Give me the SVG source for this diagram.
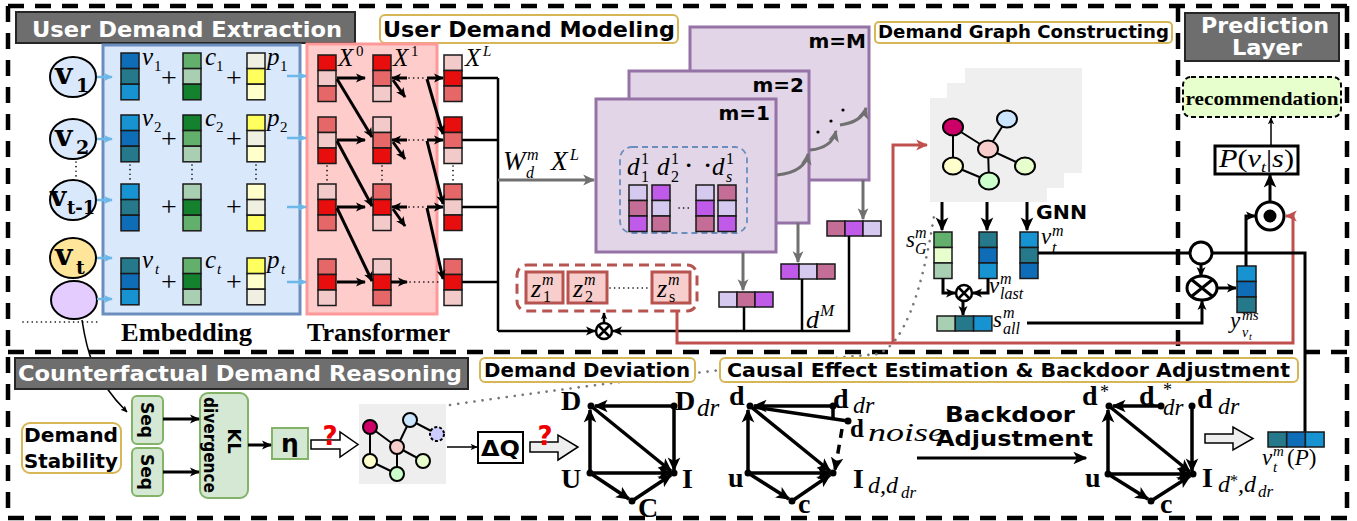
<svg xmlns="http://www.w3.org/2000/svg" width="1357" height="521" viewBox="0 0 1357 521">
<defs>
<style>
text{font-family:"Liberation Serif","Times New Roman",serif}
.hd{font-family:"DejaVu Sans","Liberation Sans",sans-serif;font-weight:bold}
.wt{fill:#fff}
.q{fill:#ee0000}
.mi{font-style:italic}
.bs{font-family:"DejaVu Serif","Liberation Serif",serif;font-weight:bold}
.tb{font-weight:bold}
.gray{fill:#6e6e6e;stroke:#262626;stroke-width:2}
.gold{fill:#fff;stroke:#d6b656;stroke-width:2}
.grn{fill:#d5e8d4;stroke:#82b366;stroke-width:2}
.frame{fill:none;stroke:#000;stroke-width:4.5;stroke-dasharray:16 11}
.c{stroke:#1a1a1a;stroke-width:1.5}
.b1{fill:#0f6cb6}.b2{fill:#26798b}.b3{fill:#1793d1}
.g1{fill:#62b06c}.g2{fill:#a9cfb3}.g3{fill:#13812d}.g4{fill:#e6ffcc}
.y1{fill:#f0f0e2}.y2{fill:#ffff5e}.y3{fill:#ffffcc}
.r1{fill:#e80e0e}.r2{fill:#e56767}.r3{fill:#f2caca}
.p1{fill:#d6c9f0}.p2{fill:#c36d97}.p3{fill:#c05be9}
.k{fill:none;stroke:#000;stroke-width:2.5}
.k3{fill:none;stroke:#000;stroke-width:3}
.kt{fill:none;stroke:#000;stroke-width:1.5}
.kc{fill:none;stroke:#000;stroke-width:3.5}
.dot{fill:none;stroke:#000;stroke-width:1.6;stroke-dasharray:0.1 4.5;stroke-linecap:round}
.gdot{fill:none;stroke:#777;stroke-width:2.6;stroke-dasharray:0.1 8;stroke-linecap:round}
.gy{fill:none;stroke:#707070;stroke-width:3}
.rd{fill:none;stroke:#c0504d;stroke-width:3}
.blu{fill:none;stroke:#6cb8e8;stroke-width:2.5}
.nd{stroke:#000;stroke-width:2}
.edge{stroke:#000;stroke-width:2}
</style>
<marker id="ah" viewBox="0 0 10 10" refX="9" refY="5" markerWidth="10" markerHeight="10" markerUnits="userSpaceOnUse" orient="auto"><path d="M0,0.5 L10,5 L0,9.5 L2.5,5 z" fill="#000"/></marker>
<marker id="ahS" viewBox="0 0 10 10" refX="9" refY="5" markerWidth="7" markerHeight="7" markerUnits="userSpaceOnUse" orient="auto"><path d="M0,0.5 L10,5 L0,9.5 L2.5,5 z" fill="#000"/></marker>
<marker id="ahL" viewBox="0 0 10 10" refX="9" refY="5" markerWidth="14" markerHeight="14" markerUnits="userSpaceOnUse" orient="auto"><path d="M0,0.5 L10,5 L0,9.5 L2.5,5 z" fill="#000"/></marker>
<marker id="ahB" viewBox="0 0 10 10" refX="9" refY="5" markerWidth="9" markerHeight="9" markerUnits="userSpaceOnUse" orient="auto"><path d="M0,0.5 L10,5 L0,9.5 L2.5,5 z" fill="#6cb8e8"/></marker>
<marker id="ahG" viewBox="0 0 10 10" refX="9" refY="5" markerWidth="12" markerHeight="12" markerUnits="userSpaceOnUse" orient="auto"><path d="M0,0.5 L10,5 L0,9.5 L2.5,5 z" fill="#707070"/></marker>
<marker id="ahR" viewBox="0 0 10 10" refX="9" refY="5" markerWidth="12" markerHeight="12" markerUnits="userSpaceOnUse" orient="auto"><path d="M0,0.5 L10,5 L0,9.5 L2.5,5 z" fill="#c0504d"/></marker>
</defs>

<rect width="1357" height="521" fill="#fff"/>

<!-- section frames -->
<g id="frames" class="frame">
<line x1="8" y1="6" x2="1350" y2="6"/>
<line x1="8" y1="6" x2="8" y2="518"/>
<line x1="8" y1="518" x2="1350" y2="518"/>
<line x1="1347" y1="6" x2="1347" y2="518"/>
<line x1="8" y1="352" x2="1347" y2="352"/>
<line x1="1178" y1="6" x2="1178" y2="352"/>
</g>

<!-- dotted link between the counterfactual graph and the demand graph -->
<path class="gdot" d="M450,405 Q680,372 878,354 Q915,340 935,210"/>
<!-- link from the extra item to the sequence box -->
<path class="kt" d="M82,320 C86,345 90,375 127,412" marker-end="url(#ahS)"/>

<!-- section titles -->
<g id="title-extraction"><rect class="gray" x="16" y="12" width="339" height="31"/><text class="hd wt" x="32" y="37" font-size="22" textLength="310" lengthAdjust="spacingAndGlyphs">User Demand Extraction</text></g>
<g id="title-modeling"><rect class="gold" x="380" y="15" width="298" height="28" rx="5"/><text class="hd" x="383" y="37" font-size="21" textLength="292" lengthAdjust="spacingAndGlyphs">User Demand Modeling</text></g>
<g id="title-graph"><rect class="gold" x="875" y="22" width="297" height="21" rx="4"/><text class="hd" x="878" y="38" font-size="17" textLength="291" lengthAdjust="spacingAndGlyphs">Demand Graph Constructing</text></g>
<g id="title-prediction"><rect class="gray" x="1185" y="13" width="154" height="48"/><text class="hd wt" x="1265" y="33" font-size="21" text-anchor="middle" textLength="128" lengthAdjust="spacingAndGlyphs">Prediction</text><text class="hd wt" x="1267" y="55" font-size="21" text-anchor="middle" textLength="70" lengthAdjust="spacingAndGlyphs">Layer</text></g>
<g id="title-counterfactual"><rect class="gray" x="15" y="358" width="453" height="31"/><text class="hd wt" x="18" y="381" font-size="21" textLength="444" lengthAdjust="spacingAndGlyphs">Counterfactual Demand Reasoning</text></g>

<!-- item nodes -->
<g id="items">
<g id="item-v1"><ellipse cx="73" cy="77" rx="23" ry="20" fill="#dae8fc" class="nd"/><text class="bs" x="55" y="84" font-size="30">v</text><text class="bs" x="76" y="92" font-size="19">1</text></g>
<g id="item-v2"><ellipse cx="73" cy="139" rx="23" ry="20" fill="#dae8fc" class="nd"/><text class="bs" x="55" y="146" font-size="30">v</text><text class="bs" x="76" y="154" font-size="19">2</text></g>
<g id="item-vt1"><ellipse cx="73" cy="200" rx="23" ry="20" fill="#dae8fc" class="nd"/><text class="bs" x="50" y="206" font-size="28">v</text><text class="bs" x="67" y="214" font-size="18">t-1</text></g>
<g id="item-vt"><ellipse cx="73" cy="258" rx="23" ry="20" fill="#ffe599" class="nd"/><text class="bs" x="55" y="265" font-size="30">v</text><text class="bs" x="76" y="274" font-size="19">t</text></g>
<g id="item-next"><ellipse cx="74" cy="300" rx="23" ry="19" fill="#e5ccff" class="nd"/></g>
<path class="dot" d="M76,162 V178"/>
<path class="dot" d="M23,322 H97"/>
</g>

<!-- embedding block -->
<g id="embedding">
<rect x="103" y="45" width="197" height="269" fill="#dae8fc" stroke="#6c8ebf" stroke-width="3"/>
<g class="c">
<rect class="b1" x="121" y="53" width="18" height="15.6"/><rect class="b2" x="121" y="68.6" width="18" height="15.6"/><rect class="b3" x="121" y="84.2" width="18" height="15.6"/>
<rect class="b3" x="121" y="115" width="18" height="15.6"/><rect class="b1" x="121" y="130.6" width="18" height="15.6"/><rect class="b2" x="121" y="146.2" width="18" height="15.6"/>
<rect class="b3" x="121" y="184" width="18" height="15.6"/><rect class="b2" x="121" y="199.6" width="18" height="15.6"/><rect class="b1" x="121" y="215.2" width="18" height="15.6"/>
<rect class="b2" x="121" y="258" width="18" height="15.6"/><rect class="b1" x="121" y="273.6" width="18" height="15.6"/><rect class="b3" x="121" y="289.2" width="18" height="15.6"/>
<rect class="g1" x="183" y="53" width="18" height="15.6"/><rect class="g2" x="183" y="68.6" width="18" height="15.6"/><rect class="g3" x="183" y="84.2" width="18" height="15.6"/>
<rect class="g3" x="183" y="115" width="18" height="15.6"/><rect class="g1" x="183" y="130.6" width="18" height="15.6"/><rect class="g2" x="183" y="146.2" width="18" height="15.6"/>
<rect class="g2" x="183" y="184" width="18" height="15.6"/><rect class="g3" x="183" y="199.6" width="18" height="15.6"/><rect class="g1" x="183" y="215.2" width="18" height="15.6"/>
<rect class="g1" x="183" y="258" width="18" height="15.6"/><rect class="g3" x="183" y="273.6" width="18" height="15.6"/><rect class="g2" x="183" y="289.2" width="18" height="15.6"/>
<rect class="y1" x="247" y="53" width="18" height="15.6"/><rect class="y2" x="247" y="68.6" width="18" height="15.6"/><rect class="y3" x="247" y="84.2" width="18" height="15.6"/>
<rect class="y2" x="247" y="115" width="18" height="15.6"/><rect class="y1" x="247" y="130.6" width="18" height="15.6"/><rect class="y3" x="247" y="146.2" width="18" height="15.6"/>
<rect class="y3" x="247" y="184" width="18" height="15.6"/><rect class="y1" x="247" y="199.6" width="18" height="15.6"/><rect class="y2" x="247" y="215.2" width="18" height="15.6"/>
<rect class="y2" x="247" y="258" width="18" height="15.6"/><rect class="y3" x="247" y="273.6" width="18" height="15.6"/><rect class="y1" x="247" y="289.2" width="18" height="15.6"/>
</g>
<path class="dot" d="M130,165 V180 M192,165 V180 M256,165 V180"/>
<g font-size="28">
<text x="161" y="87">+</text><text x="226" y="87">+</text>
<text x="161" y="148">+</text><text x="226" y="148">+</text>
<text x="161" y="216">+</text><text x="226" y="216">+</text>
<text x="161" y="291">+</text><text x="226" y="291">+</text>
</g>
<g class="mi" font-size="25">
<text x="142" y="65">v</text><text x="205" y="65">c</text><text x="267" y="65">p</text>
<text x="142" y="126">v</text><text x="205" y="126">c</text><text x="267" y="126">p</text>
<text x="142" y="268">v</text><text x="205" y="268">c</text><text x="267" y="268">p</text>
</g>
<g font-size="15">
<text x="154" y="71">1</text><text x="216" y="71">1</text><text x="280" y="71">1</text>
<text x="154" y="132">2</text><text x="216" y="132">2</text><text x="280" y="132">2</text>
<text class="mi" x="155" y="274">t</text><text class="mi" x="217" y="274">t</text><text class="mi" x="281" y="274">t</text>
</g>
<text class="tb" x="121" y="341" font-size="26" textLength="131" lengthAdjust="spacingAndGlyphs">Embedding</text>
</g>

<!-- transformer block -->
<g id="transformer">
<rect x="307" y="44" width="130" height="270" fill="#ffcccc" stroke="#ff9999" stroke-width="3"/>
<g class="c">
<rect class="r1" x="318" y="55" width="18" height="15.5"/><rect class="r3" x="318" y="70.5" width="18" height="15.5"/><rect class="r2" x="318" y="86" width="18" height="15.5"/>
<rect class="r2" x="318" y="117" width="18" height="15.5"/><rect class="r3" x="318" y="132.5" width="18" height="15.5"/><rect class="r1" x="318" y="148" width="18" height="15.5"/>
<rect class="r3" x="318" y="184" width="18" height="15.5"/><rect class="r1" x="318" y="199.5" width="18" height="15.5"/><rect class="r2" x="318" y="215" width="18" height="15.5"/>
<rect class="r2" x="318" y="259" width="18" height="15.5"/><rect class="r1" x="318" y="274.5" width="18" height="15.5"/><rect class="r3" x="318" y="290" width="18" height="15.5"/>
<rect class="r1" x="373" y="55" width="18" height="15.5"/><rect class="r2" x="373" y="70.5" width="18" height="15.5"/><rect class="r3" x="373" y="86" width="18" height="15.5"/>
<rect class="r3" x="373" y="117" width="18" height="15.5"/><rect class="r2" x="373" y="132.5" width="18" height="15.5"/><rect class="r1" x="373" y="148" width="18" height="15.5"/>
<rect class="r2" x="373" y="184" width="18" height="15.5"/><rect class="r1" x="373" y="199.5" width="18" height="15.5"/><rect class="r3" x="373" y="215" width="18" height="15.5"/>
<rect class="r3" x="373" y="259" width="18" height="15.5"/><rect class="r1" x="373" y="274.5" width="18" height="15.5"/><rect class="r2" x="373" y="290" width="18" height="15.5"/>
<rect class="r3" x="444" y="55" width="18" height="15.5"/><rect class="r1" x="444" y="70.5" width="18" height="15.5"/><rect class="r2" x="444" y="86" width="18" height="15.5"/>
<rect class="r1" x="444" y="117" width="18" height="15.5"/><rect class="r2" x="444" y="132.5" width="18" height="15.5"/><rect class="r3" x="444" y="148" width="18" height="15.5"/>
<rect class="r2" x="444" y="184" width="18" height="15.5"/><rect class="r3" x="444" y="199.5" width="18" height="15.5"/><rect class="r1" x="444" y="215" width="18" height="15.5"/>
<rect class="r2" x="444" y="259" width="18" height="15.5"/><rect class="r1" x="444" y="274.5" width="18" height="15.5"/><rect class="r3" x="444" y="290" width="18" height="15.5"/>
</g>
<path class="dot" d="M327,166 V180 M382,166 V180 M453,166 V180"/>
<g class="mi" font-size="25">
<text x="338" y="66">X</text><text x="393" y="66">X</text><text x="465" y="66">X</text>
</g>
<g font-size="15"><text x="356" y="56">0</text><text x="411" y="56">1</text><text class="mi" x="483" y="56">L</text></g>
<text class="tb" x="307" y="341" font-size="26" textLength="143" lengthAdjust="spacingAndGlyphs">Transformer</text>
</g>

<!-- stacked demand channels -->
<g id="channel-M"><rect x="690" y="27" width="179" height="153" fill="#e1d5e7" stroke="#9673a6" stroke-width="3"/><text class="hd" x="866" y="48" font-size="20" text-anchor="end">m=M</text></g>
<g id="channel-2"><rect x="629" y="71" width="180" height="152" fill="#e1d5e7" stroke="#9673a6" stroke-width="3"/><text class="hd" x="804" y="92" font-size="20" text-anchor="end">m=2</text></g>
<g id="channel-1">
<rect x="596" y="99" width="180" height="153" fill="#e1d5e7" stroke="#9673a6" stroke-width="3"/>
<text class="hd" x="770" y="120" font-size="20" text-anchor="end">m=1</text>
<rect x="620" y="147" width="127" height="86" rx="12" fill="none" stroke="#6c8ebf" stroke-width="1.8" stroke-dasharray="6 4"/>
<g class="c">
<rect class="p1" x="629" y="185" width="18" height="15.5"/><rect class="p2" x="629" y="200.5" width="18" height="15.5"/><rect class="p3" x="629" y="216" width="18" height="15.5"/>
<rect class="p3" x="652" y="185" width="18" height="15.5"/><rect class="p1" x="652" y="200.5" width="18" height="15.5"/><rect class="p2" x="652" y="216" width="18" height="15.5"/>
<rect class="p1" x="696" y="185" width="18" height="15.5"/><rect class="p3" x="696" y="200.5" width="18" height="15.5"/><rect class="p2" x="696" y="216" width="18" height="15.5"/>
<rect class="p2" x="718" y="185" width="18" height="15.5"/><rect class="p1" x="718" y="200.5" width="18" height="15.5"/><rect class="p3" x="718" y="216" width="18" height="15.5"/>
</g>
<path class="dot" d="M679,208 H690"/>
<g class="mi" font-size="25"><text x="627" y="175">d</text><text x="657" y="175">d</text><text x="712" y="175">d</text></g>
<g font-size="16"><text x="641" y="164">1</text><text x="641" y="182">1</text><text x="671" y="164">1</text><text x="671" y="182">2</text><text x="726" y="164">1</text><text class="mi" x="726" y="182">s</text></g>
<text class="tb" x="685" y="172" font-size="22">·</text><text class="tb" x="704" y="172" font-size="22">·</text>
</g>

<!-- demand vectors per channel -->
<g id="demand-vectors" class="c">
<rect class="p1" x="719" y="292" width="18" height="15"/><rect class="p2" x="737" y="292" width="18" height="15"/><rect class="p3" x="755" y="292" width="18" height="15"/>
<rect class="p3" x="781" y="264" width="18" height="15"/><rect class="p1" x="799" y="264" width="18" height="15"/><rect class="p2" x="817" y="264" width="18" height="15"/>
<rect class="p2" x="827" y="221" width="18" height="15"/><rect class="p3" x="845" y="221" width="18" height="15"/><rect class="p1" x="863" y="221" width="18" height="15"/>
</g>
<g id="label-dM"><text class="mi" x="806" y="328" font-size="26">d</text><text class="mi" x="820" y="316" font-size="17">M</text></g>

<!-- latent demand factors -->
<g id="factors">
<rect x="517" y="265" width="180" height="46" rx="10" fill="none" stroke="#b85450" stroke-width="3" stroke-dasharray="10 6"/>
<rect x="526" y="272" width="37" height="31" fill="#f8cecc" stroke="#b85450" stroke-width="3"/>
<rect x="568" y="272" width="39" height="31" fill="#f8cecc" stroke="#b85450" stroke-width="3"/>
<rect x="652" y="272" width="38" height="31" fill="#f8cecc" stroke="#b85450" stroke-width="3"/>
<path class="dot" d="M610,288 H649"/>
<g class="mi" font-size="26"><text x="531" y="297">z</text><text x="573" y="297">z</text><text x="657" y="297">z</text></g>
<g font-size="16"><text class="mi" x="542" y="285">m</text><text x="543" y="302">1</text><text class="mi" x="584" y="285">m</text><text x="585" y="302">2</text><text class="mi" x="668" y="285">m</text><text x="669" y="302">s</text></g>
</g>

<!-- demand graph -->
<g id="demand-graph">
<rect x="965" y="68" width="117" height="105" fill="#efefef"/>
<rect x="947" y="83" width="117" height="105" fill="#efefef"/>
<rect x="930" y="98" width="117" height="104" fill="#efefef"/>
<g class="edge"><line x1="953" y1="127" x2="988" y2="149"/><line x1="953" y1="127" x2="953" y2="166"/><line x1="953" y1="166" x2="989" y2="181"/><line x1="988" y1="149" x2="989" y2="181"/><line x1="988" y1="149" x2="1007" y2="119"/><line x1="988" y1="149" x2="1025" y2="166"/></g>
<g class="nd">
<ellipse cx="953" cy="127" rx="10" ry="8.5" fill="#cc0066"/>
<ellipse cx="1007" cy="119" rx="10" ry="8.5" fill="#cce5ff"/>
<ellipse cx="988" cy="149" rx="10" ry="8.5" fill="#f8cecc"/>
<ellipse cx="953" cy="166" rx="10" ry="8.5" fill="#ffffcc"/>
<ellipse cx="1025" cy="166" rx="10" ry="8.5" fill="#e6ffcc"/>
<ellipse cx="989" cy="181" rx="10" ry="8.5" fill="#ccffcc"/>
</g>
<text class="hd" x="1036" y="219" font-size="19" textLength="51" lengthAdjust="spacingAndGlyphs">GNN</text>
</g>

<!-- graph readout vectors -->
<g id="readout">
<g class="c">
<rect class="g1" x="934" y="232" width="18" height="15.5"/><rect class="g4" x="934" y="247.5" width="18" height="15.5"/><rect class="g2" x="934" y="263" width="18" height="15.5"/>
<rect class="b2" x="979" y="232" width="18" height="15.5"/><rect class="b1" x="979" y="247.5" width="18" height="15.5"/><rect class="b3" x="979" y="263" width="18" height="15.5"/>
<rect class="b3" x="1020" y="232" width="18" height="15.5"/><rect class="b2" x="1020" y="247.5" width="18" height="15.5"/><rect class="b1" x="1020" y="263" width="18" height="15.5"/>
<rect class="g2" x="937" y="316" width="18.3" height="15"/><rect class="b2" x="955.3" y="316" width="18.3" height="15"/><rect class="b3" x="973.6" y="316" width="18.3" height="15"/>
</g>
<g class="mi" font-size="23"><text x="906" y="247">s</text><text x="1041" y="244">v</text><text x="989" y="293">v</text><text x="993" y="327">s</text></g>
<g class="mi" font-size="16">
<text x="915" y="238">m</text><text x="915" y="254">G</text>
<text x="1052" y="236">m</text><text x="1052" y="253">t</text>
<text x="1000" y="284">m</text><text x="1000" y="299">last</text>
<text x="1003" y="318">m</text><text x="1003" y="334">all</text>
</g>
</g>

<!-- prediction layer -->
<g id="prediction">
<rect x="1183" y="77" width="158" height="40" rx="8" fill="#e6ffcc" stroke="#000" stroke-width="2" stroke-dasharray="5 3"/>
<text class="tb" x="1262" y="105" font-size="19" text-anchor="middle" textLength="153" lengthAdjust="spacingAndGlyphs">recommendation</text>
<rect x="1215" y="146" width="83" height="28" fill="#fff" stroke="#000" stroke-width="3"/>
<text class="mi" x="1219" y="167" font-size="25" textLength="75" lengthAdjust="spacingAndGlyphs">P<tspan font-style="normal">(</tspan>v<tspan font-size="15" dy="5">t</tspan><tspan font-style="normal" dy="-5">|</tspan>s<tspan font-style="normal">)</tspan></text>
<g class="c"><rect class="b3" x="1237" y="266" width="19" height="15.5"/><rect class="b1" x="1237" y="281.5" width="19" height="15.5"/><rect class="b2" x="1237" y="297" width="19" height="15.5"/></g>
<text class="mi" x="1230" y="328" font-size="23">y</text><text class="mi" x="1242" y="320" font-size="15">ms</text><text class="mi" x="1242" y="337" font-size="14">v</text><text class="mi" x="1249" y="340" font-size="10">t</text>
<circle cx="1201" cy="253" r="11" fill="#fff" stroke="#000" stroke-width="3"/>
<g><ellipse cx="1202" cy="288" rx="15" ry="12" fill="#fff" stroke="#000" stroke-width="3"/><path class="k3" d="M1192,280 L1212,296 M1212,280 L1192,296"/></g>
<g><circle cx="1270" cy="216" r="14" fill="#fff" stroke="#000" stroke-width="3"/><circle cx="1270" cy="216" r="6.5" fill="#000"/></g>
</g>

<!-- connectors -->
<g id="connectors">
<!-- item to embedding -->
<g class="blu">
<path d="M97,77 H112" marker-end="url(#ahB)"/><path d="M97,139 H112" marker-end="url(#ahB)"/><path d="M97,200 H112" marker-end="url(#ahB)"/><path d="M97,258 H112" marker-end="url(#ahB)"/><path d="M97,299 H112" marker-end="url(#ahB)"/>
<path d="M287,76 H306" marker-end="url(#ahB)"/><path d="M287,138 H306" marker-end="url(#ahB)"/><path d="M287,207 H306" marker-end="url(#ahB)"/><path d="M287,282 H306" marker-end="url(#ahB)"/>
</g>
<!-- transformer layers -->
<g class="k3">
<path d="M337,78 H365" marker-end="url(#ah)"/><path d="M337,79 L372,137" marker-end="url(#ah)"/>
<path d="M337,140 H365" marker-end="url(#ah)"/><path d="M337,141 L372,206" marker-end="url(#ah)"/>
<path d="M337,207 H365" marker-end="url(#ah)"/><path d="M337,208 L372,281" marker-end="url(#ah)"/>
<path d="M337,282 H365" marker-end="url(#ah)"/>
<path d="M407,78 H392" marker-end="url(#ah)"/><path d="M393,80 L405,97" marker-end="url(#ah)"/>
<path d="M407,140 H392" marker-end="url(#ah)"/><path d="M393,142 L405,159" marker-end="url(#ah)"/>
<path d="M407,207 H392" marker-end="url(#ah)"/><path d="M393,209 L405,226" marker-end="url(#ah)"/>
<path d="M391,282 H407" marker-end="url(#ah)"/>
<path d="M427,78 H443" marker-end="url(#ah)"/><path d="M427,79 L443,134" marker-end="url(#ah)"/>
<path d="M427,140 H443" marker-end="url(#ah)"/><path d="M427,141 L443,204" marker-end="url(#ah)"/>
<path d="M427,207 H443" marker-end="url(#ah)"/><path d="M427,208 L443,279" marker-end="url(#ah)"/>
</g>
<path class="dot" d="M409,78 H425 M409,140 H425 M409,207 H425 M410,282 H442"/>
<!-- transformer output bus -->
<path class="k" d="M462,78 H498 M462,140 H498 M462,207 H498 M462,282 H498 M498,78 V331"/>
<path class="k" d="M498,331 H595" marker-end="url(#ah)"/>
<path class="k" d="M849,236 V331 H613" marker-end="url(#ah)"/>
<path class="k" d="M744,307 V331 M802,279 V331"/>
<path class="k" d="M604,322 V313" marker-end="url(#ahS)"/>
<g><circle cx="604" cy="331" r="8" fill="#fff" stroke="#000" stroke-width="2.5"/><path class="k" d="M599,326 L609,336 M609,326 L599,336"/></g>
<!-- projection into channels -->
<path class="gy" d="M498,180 H594" marker-end="url(#ahG)"/>
<g class="mi"><text x="503" y="170" font-size="27">W</text><text x="527" y="160" font-size="16">m</text><text x="526" y="178" font-size="16">d</text><text x="551" y="170" font-size="27">X</text><text x="570" y="160" font-size="16">L</text></g>
<path class="gy" d="M777,175 Q805,172 808,154" marker-end="url(#ahG)"/>
<path class="gy" d="M810,150 Q832,148 836,131" marker-end="url(#ahG)"/>
<path class="gy" d="M840,125 Q862,122 866,108" marker-end="url(#ahG)"/>
<g fill="#000"><circle cx="818" cy="132" r="1.6"/><circle cx="831" cy="121" r="1.6"/><circle cx="843" cy="110" r="1.6"/></g>
<path class="gy" d="M743,252 V290" marker-end="url(#ahG)"/>
<path class="gy" d="M798,223 V262" marker-end="url(#ahG)"/>
<path class="gy" d="M863,180 V219" marker-end="url(#ahG)"/>
<!-- factor route to graph and prediction -->
<path class="rd" d="M677,311 V343 H1293 V216 H1286" marker-end="url(#ahR)"/>
<path class="rd" d="M893,343 V145 H927" marker-end="url(#ahR)"/>
<!-- GNN readouts -->
<path class="k3" d="M942,202 V230" marker-end="url(#ahL)"/>
<path class="k3" d="M987,202 V230" marker-end="url(#ahL)"/>
<path class="k3" d="M1027,202 V230" marker-end="url(#ahL)"/>
<path class="k3" d="M943,278 V293 H955" marker-end="url(#ah)"/>
<path class="k3" d="M988,278 V293 H973" marker-end="url(#ah)"/>
<path class="k3" d="M963,301 V315" marker-end="url(#ah)"/>
<g><circle cx="964" cy="293" r="8" fill="#fff" stroke="#000" stroke-width="2.5"/><path class="k" d="M959,288 L969,298 M969,288 L959,298"/></g>
<!-- prediction wiring -->
<path class="k3" d="M1038,253 H1190 M1212,253 H1305 V432"/>
<path class="k3" d="M1027,323 H1202 V301" marker-end="url(#ah)"/>
<path class="k3" d="M1201,264 V276" marker-end="url(#ah)"/>
<path class="k3" d="M1217,288 H1236" marker-end="url(#ah)"/>
<path class="k3" d="M1246,266 V216 H1255" marker-end="url(#ah)"/>
<path class="k3" d="M1270,202 V175" marker-end="url(#ahL)"/>
<path class="kt" d="M1271,146 V118" marker-end="url(#ahS)"/>
</g>

<!-- counterfactual demand reasoning -->
<g id="title-deviation"><rect class="gold" x="480" y="358" width="215" height="24" rx="5"/><text class="hd" x="484" y="377" font-size="19" textLength="206" lengthAdjust="spacingAndGlyphs">Demand Deviation</text></g>
<g id="title-causal"><rect class="gold" x="720" y="358" width="578" height="24" rx="5"/><text class="hd" x="727" y="377" font-size="19" textLength="563" lengthAdjust="spacingAndGlyphs">Causal Effect Estimation &amp; Backdoor Adjustment</text></g>
<g id="stability"><rect class="gold" x="22" y="423" width="99" height="50" rx="8"/><text class="hd" x="24" y="442" font-size="19" textLength="94" lengthAdjust="spacingAndGlyphs">Demand</text><text class="hd" x="24" y="468" font-size="19" textLength="94" lengthAdjust="spacingAndGlyphs">Stability</text></g>
<g id="seq-1"><rect class="grn" x="132" y="396" width="31" height="48" rx="5"/><text class="hd" font-size="17" text-anchor="middle" dominant-baseline="central" transform="translate(147,420) rotate(90)">Seq</text></g>
<g id="seq-2"><rect class="grn" x="132" y="448" width="31" height="48" rx="5"/><text class="hd" font-size="17" text-anchor="middle" dominant-baseline="central" transform="translate(147,472) rotate(90)">Seq</text></g>
<g id="kl"><rect class="grn" x="200" y="393" width="48" height="105" rx="8"/><g transform="translate(222,445) rotate(90)"><text class="hd" x="-4" y="-12" font-size="18" text-anchor="middle" dominant-baseline="central">KL</text><text class="hd" x="0" y="12" font-size="18" text-anchor="middle" dominant-baseline="central" textLength="96" lengthAdjust="spacingAndGlyphs">divergence</text></g></g>
<g id="eta"><rect x="272" y="428" width="36" height="31" fill="#d5e8d4" stroke="#82b366" stroke-width="2"/><text class="hd" x="290" y="452" font-size="25" text-anchor="middle">η</text></g>
<g id="cf-graph">
<rect x="359" y="404" width="87" height="80" fill="#eeeeee"/>
<g class="edge"><line x1="370" y1="427" x2="397" y2="447"/><line x1="370" y1="427" x2="370" y2="461"/><line x1="370" y1="461" x2="397" y2="474"/><line x1="397" y1="447" x2="397" y2="474"/><line x1="397" y1="447" x2="410" y2="420"/><line x1="397" y1="447" x2="423" y2="461"/><line x1="410" y1="420" x2="437" y2="434"/></g>
<g class="nd">
<circle cx="370" cy="427" r="7" fill="#cc0066"/>
<circle cx="410" cy="420" r="7" fill="#cce5ff"/>
<circle cx="397" cy="447" r="7" fill="#f8cecc"/>
<circle cx="370" cy="461" r="7" fill="#ffffcc"/>
<circle cx="423" cy="461" r="7" fill="#e6ffcc"/>
<circle cx="397" cy="474" r="7" fill="#ccffcc"/>
<circle cx="437" cy="434" r="7" fill="#ccccff" stroke-dasharray="3 2"/>
</g>
</g>
<g id="delta-q"><rect x="478" y="432" width="45" height="31" fill="#fff" stroke="#000" stroke-width="2"/><text class="hd" x="500.5" y="456" font-size="22" text-anchor="middle" textLength="39" lengthAdjust="spacingAndGlyphs">ΔQ</text></g>
<g id="block-arrows" stroke="#000" stroke-width="1.5">
<polygon points="311,440 340,440 340,432 358,444.5 340,457 340,449 311,449" fill="#fff"/>
<polygon points="530,442 558,442 558,435 578,447 558,460 558,452 530,452" fill="#eeeeee"/>
<polygon points="1205,434 1233,434 1233,427 1253,438.5 1233,450 1233,443 1205,443" fill="#eeeeee"/>
</g>
<g font-size="26" text-anchor="middle"><text class="hd q" x="330" y="445">?</text><text class="hd q" x="545" y="445">?</text></g>
<g id="cf-connectors">
<path class="k3" d="M163,419 H199" marker-end="url(#ah)"/>
<path class="k3" d="M163,472 H199" marker-end="url(#ah)"/>
<path class="k3" d="M248,445 H271" marker-end="url(#ah)"/>
<path class="kt" d="M447,447 H477" marker-end="url(#ahS)"/>
<path class="k3" d="M917,458 H1086" marker-end="url(#ahL)"/>
</g>
<text class="hd" x="945" y="422" font-size="22" textLength="130" lengthAdjust="spacingAndGlyphs">Backdoor</text>
<text class="hd" x="936" y="446" font-size="22" textLength="157" lengthAdjust="spacingAndGlyphs">Adjustment</text>

<!-- causal graph: demand deviation -->
<g id="causal-deviation">
<g class="kc">
<path d="M674,406 H595" marker-end="url(#ahL)"/>
<path d="M674,406 V470" marker-end="url(#ahL)"/>
<path d="M590,473 V410" marker-end="url(#ahL)"/>
<path d="M591,406 L671,471" marker-end="url(#ahL)"/>
<path d="M590,473 H671" marker-end="url(#ahL)"/>
<path d="M590,473 L629,499" marker-end="url(#ahL)"/>
<path d="M632,501 L671,475" marker-end="url(#ahL)"/>
</g>
<g fill="#000"><circle cx="591" cy="406" r="3.5"/><circle cx="674" cy="406" r="3.5"/><circle cx="590" cy="473" r="3.5"/><circle cx="674" cy="473" r="3.5"/><circle cx="632" cy="501" r="3.5"/></g>
<g class="bs" font-size="28"><text x="561" y="410">D</text><text x="675" y="410">D</text><text x="561" y="488">U</text><text x="682" y="488">I</text><text x="638" y="517">C</text></g>
<text class="mi" x="697" y="416" font-size="25">dr</text>
</g>

<!-- causal graph: effect estimation -->
<g id="causal-estimation">
<g class="kc">
<path d="M833,406 H754" marker-end="url(#ahL)"/>
<path d="M848,421 L754,407"/>
<path d="M833,406 V420"/>
<path d="M748,473 V410" marker-end="url(#ahL)"/>
<path d="M750,406 L830,471" marker-end="url(#ahL)"/>
<path d="M748,473 H830" marker-end="url(#ahL)"/>
<path d="M748,473 L789,499" marker-end="url(#ahL)"/>
<path d="M792,501 L830,475" marker-end="url(#ahL)"/>
</g>
<path d="M842,429 L835,470" fill="none" stroke="#000" stroke-width="3.5" stroke-dasharray="9 7" marker-end="url(#ahL)"/>
<g fill="#000"><circle cx="750" cy="406" r="3.5"/><circle cx="833" cy="406" r="3.5"/><circle cx="848" cy="421" r="3.5"/><circle cx="748" cy="473" r="3.5"/><circle cx="833" cy="473" r="3.5"/><circle cx="792" cy="501" r="3.5"/></g>
<g class="bs" font-size="28"><text x="729" y="405">d</text><text x="833" y="408">d</text><text x="850" y="437" font-size="25">d</text><text x="728" y="487">u</text><text x="853" y="488">I</text><text x="798" y="513">c</text></g>
<g class="mi"><text x="853" y="413" font-size="24">dr</text><text x="868" y="441" font-size="26" textLength="76" lengthAdjust="spacingAndGlyphs">noise</text><text x="868" y="493" font-size="24">d,d</text><text x="901" y="498" font-size="17">dr</text></g>
</g>

<!-- causal graph: backdoor adjusted -->
<g id="causal-adjusted">
<g class="kc">
<path d="M1161,406 H1113" marker-end="url(#ahL)"/>
<path d="M1192,406 V471" marker-end="url(#ahL)"/>
<path d="M1108,474 V410" marker-end="url(#ahL)"/>
<path d="M1109,406 L1190,472" marker-end="url(#ahL)"/>
<path d="M1108,474 H1190" marker-end="url(#ahL)"/>
<path d="M1108,474 L1148,499" marker-end="url(#ahL)"/>
<path d="M1151,501 L1190,476" marker-end="url(#ahL)"/>
</g>
<g fill="#000"><circle cx="1109" cy="406" r="3.5"/><circle cx="1161" cy="406" r="3.5"/><circle cx="1192" cy="406" r="3.5"/><circle cx="1108" cy="474" r="3.5"/><circle cx="1193" cy="474" r="3.5"/><circle cx="1151" cy="501" r="3.5"/></g>
<g class="bs" font-size="28"><text x="1082" y="405">d</text><text x="1139" y="405">d</text><text x="1197" y="408">d</text><text x="1085" y="487">u</text><text x="1202" y="487">I</text><text x="1160" y="513">c</text></g>
<g font-size="18"><text x="1100" y="398">*</text><text x="1163" y="396">*</text><text x="1230" y="486" font-size="16">*</text></g>
<g class="mi"><text x="1163" y="415" font-size="23">dr</text><text x="1218" y="414" font-size="24">dr</text><text x="1218" y="492" font-size="24">d</text><text x="1238" y="492" font-size="24">,d</text><text x="1258" y="497" font-size="17">dr</text></g>
</g>

<!-- adjusted item representation -->
<g id="adjusted-vector">
<g class="c"><rect class="b2" x="1268" y="432" width="18.7" height="15"/><rect class="b1" x="1286.7" y="432" width="18.7" height="15"/><rect class="b3" x="1305.4" y="432" width="18.7" height="15"/></g>
<text class="mi" x="1262" y="465" font-size="23">v</text><text class="mi" x="1273" y="456" font-size="15">m</text><text class="mi" x="1273" y="472" font-size="15">t</text><text x="1287" y="465" font-size="23">(<tspan font-style="italic">P</tspan>)</text>
</g>
</svg>
